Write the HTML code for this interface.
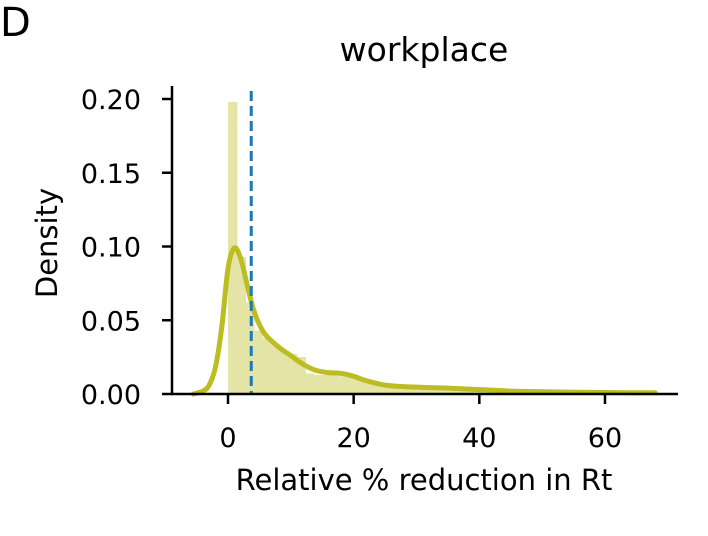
<!DOCTYPE html>
<html><head><meta charset="utf-8"><style>
body{margin:0;background:#fff;font-family:"Liberation Sans","DejaVu Sans",sans-serif}
svg text{font-family:"DejaVu Sans","Liberation Sans",sans-serif;fill:#000}
</style></head><body>
<svg id="c" width="708" height="531"></svg>
<script>
const binStart=0, binWidth=1.36;
const binValues=[0.198,0.093,0.062,0.043,0.038,0.033,0.029,0.027,0.025,0.014,0.013,0.013,0.013,0.012,0.012,0.011,0.009,0.007,0.006,0.005,0.005,0.005,0.004,0.004,0.004,0.004,0.003,0.003,0.003,0.002,0.002,0.002,0.002,0.002,0.002,0.001,0.001,0.001,0.001,0.001,0.001,0.001,0.001,0.001,0.001,0.001,0.001,0.001,0.001,0.001];
const kdeX=[-5.5,-4,-3,-2,-1,0,1,2,3,4,5,6,8,10,12,14,16,18,20,22,25,28,31,35,40,45,50,60,68];
const kdeY=[0,0.002,0.006,0.018,0.045,0.085,0.099,0.092,0.075,0.058,0.047,0.040,0.032,0.026,0.020,0.016,0.0145,0.014,0.012,0.009,0.006,0.005,0.0045,0.004,0.003,0.002,0.0015,0.001,0.0008];
const meanValue=3.7;
const xTicks=[0,20,40,60];
const yTicks=[0,0.05,0.10,0.15,0.20];
const NS="http://www.w3.org/2000/svg";
const svg=document.getElementById('c');
const X=v=>228+v*6.283, Y=v=>394-v*1475;
function el(t,a,p){const e=document.createElementNS(NS,t);for(const k in a)e.setAttribute(k,a[k]);(p||svg).appendChild(e);return e;}
const hg=el('g',{fill:'#e4e4a6','shape-rendering':'crispEdges'});
binValues.forEach((v,i)=>{
 const b=el('rect',{x:X(binStart+i*binWidth),y:Y(v),width:binWidth*6.283+1,height:394-Y(v)},hg);
 
 
});
const pts=kdeX.map((x,i)=>[X(x),Y(kdeY[i])]);
let d='M'+pts[0][0]+','+pts[0][1];
for(let i=0;i<pts.length-1;i++){
 const p0=pts[Math.max(0,i-1)],p1=pts[i],p2=pts[i+1],p3=pts[Math.min(pts.length-1,i+2)];
 d+='C'+(p1[0]+(p2[0]-p0[0])/6).toFixed(1)+','+(p1[1]+(p2[1]-p0[1])/6).toFixed(1)+' '+(p2[0]-(p3[0]-p1[0])/6).toFixed(1)+','+(p2[1]-(p3[1]-p1[1])/6).toFixed(1)+' '+p2[0].toFixed(1)+','+p2[1].toFixed(1);
}
const k=el('path',{d:d,fill:'none',stroke:'#bcbd22','stroke-width':5,'stroke-linejoin':'round','stroke-linecap':'round'});


const m=el('line',{x1:X(meanValue),x2:X(meanValue),y1:91,y2:394,stroke:'#1f77b4','stroke-width':3,'stroke-dasharray':'10,5'});


const ax=el('g',{});


el('line',{x1:172,x2:172,y1:86,y2:395,stroke:'#000','stroke-width':2.5},ax);
el('line',{x1:171,x2:678,y1:394,y2:394,stroke:'#000','stroke-width':2.5},ax);
xTicks.forEach(t=>{
 el('line',{x1:X(t),x2:X(t),y1:394,y2:404,stroke:'#000','stroke-width':2.5},ax);
 const tx=el('text',{x:X(t),y:447,'text-anchor':'middle','font-size':27},ax);tx.textContent=t;
 
 
});
yTicks.forEach(t=>{
 el('line',{x1:162,x2:172,y1:Y(t),y2:Y(t),stroke:'#000','stroke-width':2.5},ax);
 const ty=el('text',{x:141,y:Y(t)+10,'text-anchor':'end','font-size':27},ax);ty.textContent=t.toFixed(2);
 
 
});
</script>
<svg width="708" height="531" style="position:absolute;left:0;top:0">
<text x="0" y="36" font-size="40">D</text>
<text x="424" y="61" font-size="33" text-anchor="middle">workplace</text>
<text x="424" y="490" font-size="29" text-anchor="middle">Relative % reduction in Rt</text>
<text transform="translate(57,243) rotate(-90)" font-size="29" text-anchor="middle">Density</text>
</svg>
</body></html>
